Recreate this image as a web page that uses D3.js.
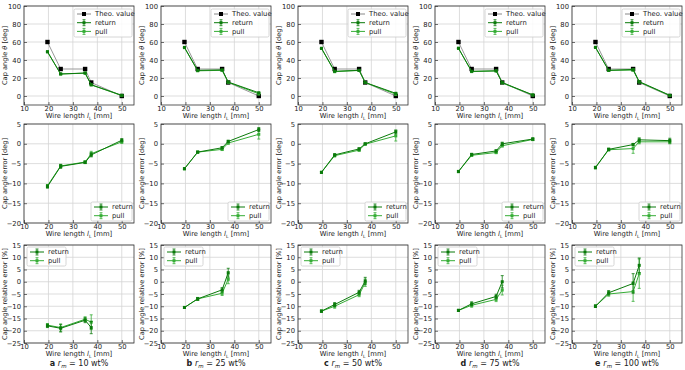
<!DOCTYPE html>
<html>
<head>
<meta charset="utf-8">
<script src="https://cdn.jsdelivr.net/npm/d3@7"></script>
<style>
  body { margin: 0; background: #fff; }
  svg text { font-family: "DejaVu Sans", sans-serif; }
</style>
</head>
<body>
<div id="chart"></div>
<script>
// data
var lengths = [19.6, 25, 35, 37.5, 50];
var relLengths = [19.6, 25, 35, 37.5];
var theoAngle = [60, 30, 30, 15, 0];
var ratios = ["10", "25", "50", "75", "100"];
var letters = ["a", "b", "c", "d", "e"];

// cap angle [deg], one row per r_m
var angleReturn = [
    [49, 24.5, 25.5, 12.5, 0.8],
    [54, 28.5, 29, 15.5, 3.6],
    [53, 27.5, 28.5, 15, 3],
    [53, 27.5, 28, 15, 1.2],
    [54, 28.5, 29.5, 16, 0.8]
];
var anglePull = [
    [49.4, 24.4, 25.4, 12.3, 0.5],
    [53.7, 28, 28.5, 15.2, 2.4],
    [52.8, 27, 28.4, 14.9, 2],
    [53, 27.1, 27.8, 14.5, 1.1],
    [54, 28.5, 28.8, 15.5, 0.5]
];
// cap angle error [deg]
var errReturn = [
    [-10.8, -5.7, -4.7, -2.8, 0.9],
    [-6.3, -2.1, -1.0, 0.6, 3.6],
    [-7.2, -2.8, -1.3, 0.0, 3.0],
    [-7.0, -2.7, -1.8, 0.0, 1.2],
    [-6.0, -1.4, -0.2, 1.0, 0.8]
];
var errPull = [
    [-10.6, -5.6, -4.6, -2.5, 0.5],
    [-6.3, -2.1, -1.4, 0.2, 2.4],
    [-7.2, -3.0, -1.6, -0.1, 2.0],
    [-7.0, -2.9, -2.2, -0.5, 1.1],
    [-6.0, -1.5, -1.2, 0.5, 0.5]
];
// error bar half widths [deg]
var barReturn = [
    [0.4, 0.5, 0.3, 0.5, 0.4],
    [0.2, 0.2, 0.3, 0.3, 0.5],
    [0.2, 0.3, 0.3, 0.2, 0.5],
    [0.2, 0.3, 0.3, 0.4, 0.3],
    [0.3, 0.3, 0.3, 0.5, 0.6]
];
var barPull = [
    [0.3, 0.4, 0.3, 0.6, 0.4],
    [0.2, 0.2, 0.3, 0.3, 1.2],
    [0.2, 0.3, 0.3, 0.2, 1.3],
    [0.3, 0.3, 0.3, 0.3, 0.3],
    [0.3, 0.3, 1.2, 0.5, 0.5]
];
// cap angle relative error [%]
var relReturn = [
    [-18, -19, -15.7, -18.7],
    [-10.5, -7, -3.3, 3.7],
    [-12, -9.3, -4.3, 0.3],
    [-11.7, -9, -6, 0],
    [-10, -4.5, -0.7, 6.7]
];
var relPull = [
    [-17.7, -18.7, -15.3, -16.5],
    [-10.5, -7, -4.7, 1.0],
    [-12, -10, -5.3, -0.4],
    [-11.7, -9.6, -7.2, -3.4],
    [-10, -5, -4, 3.3]
];
var relBarReturn = [
    [0.7, 1.5, 1.0, 2.5],
    [0.4, 0.5, 0.9, 1.8],
    [0.4, 0.8, 0.8, 1.5],
    [0.4, 0.8, 0.9, 2.5],
    [0.5, 0.9, 4.0, 3.0]
];
var relBarPull = [
    [0.6, 1.5, 1.0, 3.0],
    [0.4, 0.6, 0.9, 1.8],
    [0.4, 0.8, 0.8, 1.5],
    [0.4, 0.8, 0.9, 2.0],
    [0.5, 0.9, 4.0, 6.0]
];

var rows = [
    { domain: [-10, 100], ticks: [0, 20, 40, 60, 80, 100], label: "Cap angle \u03b8 [deg]", legend: "topright" },
    { domain: [-20, 5], ticks: [-20, -15, -10, -5, 0, 5], label: "Cap angle error [deg]", legend: "bottomright" },
    { domain: [-25, 15], ticks: [-25, -20, -15, -10, -5, 0, 5, 10, 15], label: "Cap angle relative error [%]", legend: "topleft" }
];

var colReturn = "#0b7a0b";
var colPull = "#36ad36";
var colTheo = "#000";

var svg = d3.select("#chart").append("svg").attr("width", 685).attr("height", 370);

var colLeft = [24, 161, 298, 435, 572];
var rowTop = [6, 124, 245];
var rowH = [99, 99, 98];
var plotW = 110;

function drawSeries(g, x, y, xs, ys, bars, color) {
    var pts = xs.map(function (d, i) { return { x: d, y: ys[i], e: bars[i] }; });
    var line = d3.line().x(function (d) { return x(d.x); }).y(function (d) { return y(d.y); });
    g.append("path").datum(pts).attr("d", line).attr("fill", "none")
        .attr("stroke", color).attr("stroke-width", 1);
    var eb = g.append("g");
    eb.selectAll("line.v").data(pts).enter().append("line")
        .attr("x1", function (d) { return x(d.x); }).attr("x2", function (d) { return x(d.x); })
        .attr("y1", function (d) { return y(d.y - d.e); }).attr("y2", function (d) { return y(d.y + d.e); })
        .attr("stroke", color).attr("stroke-width", 0.8);
    [-1, 1].forEach(function (s) {
        eb.selectAll(null).data(pts).enter().append("line")
            .attr("x1", function (d) { return x(d.x) - 1.5; }).attr("x2", function (d) { return x(d.x) + 1.5; })
            .attr("y1", function (d) { return y(d.y + s * d.e); }).attr("y2", function (d) { return y(d.y + s * d.e); })
            .attr("stroke", color).attr("stroke-width", 0.8);
    });
    g.selectAll(null).data(pts).enter().append("rect")
        .attr("x", function (d) { return x(d.x) - 1.5; }).attr("y", function (d) { return y(d.y) - 1.5; })
        .attr("width", 3).attr("height", 3).attr("fill", color);
}

function legendItem(g, lx, ly, color, text, isTheo) {
    if (isTheo) {
        g.append("line").attr("x1", lx).attr("x2", lx + 14).attr("y1", ly).attr("y2", ly)
            .attr("stroke", "#888").attr("stroke-width", 1);
        g.append("rect").attr("x", lx + 5).attr("y", ly - 2).attr("width", 4).attr("height", 4).attr("fill", colTheo);
    } else {
        g.append("line").attr("x1", lx).attr("x2", lx + 14).attr("y1", ly).attr("y2", ly)
            .attr("stroke", color).attr("stroke-width", 1);
        g.append("line").attr("x1", lx + 7).attr("x2", lx + 7).attr("y1", ly - 3).attr("y2", ly + 3)
            .attr("stroke", color).attr("stroke-width", 0.8);
        g.append("line").attr("x1", lx + 5.5).attr("x2", lx + 8.5).attr("y1", ly - 3).attr("y2", ly - 3)
            .attr("stroke", color).attr("stroke-width", 0.8);
        g.append("line").attr("x1", lx + 5.5).attr("x2", lx + 8.5).attr("y1", ly + 3).attr("y2", ly + 3)
            .attr("stroke", color).attr("stroke-width", 0.8);
        g.append("rect").attr("x", lx + 5.5).attr("y", ly - 1.5).attr("width", 3).attr("height", 3).attr("fill", color);
    }
    g.append("text").attr("x", lx + 18).attr("y", ly).attr("dy", "0.35em")
        .style("font-size", "6.8px").attr("fill", "#222").text(text);
}

function drawLegend(g, type, plotH) {
    var items = type === "topright"
        ? [["Theo. value", colTheo, true], ["return", colReturn, false], ["pull", colPull, false]]
        : [["return", colReturn, false], ["pull", colPull, false]];
    var bx, by, bw, bh;
    if (type === "topright") { bx = plotW - 60; by = 3; bw = 58; bh = 28; }
    else if (type === "bottomright") { bx = plotW - 43; by = plotH - 21; bw = 41; bh = 19; }
    else { bx = 3; by = 2; bw = 39; bh = 19; }
    var lg = g.append("g").attr("transform", "translate(" + bx + "," + by + ")");
    lg.append("rect").attr("width", bw).attr("height", bh).attr("rx", 1.5)
        .attr("fill", "#fff").attr("fill-opacity", 0.85).attr("stroke", "#ccc").attr("stroke-width", 0.8);
    items.forEach(function (it, i) {
        legendItem(lg, 3, 5 + i * 8.7, it[1], it[0], it[2]);
    });
}

rows.forEach(function (row, r) {
    var plotH = rowH[r];
    ratios.forEach(function (ratio, c) {
        var g = svg.append("g").attr("transform", "translate(" + colLeft[c] + "," + rowTop[r] + ")");
        var x = d3.scaleLinear().domain([10, 55]).range([0, plotW]);
        var y = d3.scaleLinear().domain(row.domain).range([plotH, 0]);

        // grid
        g.selectAll(null).data([10, 20, 30, 40, 50]).enter().append("line")
            .attr("x1", x).attr("x2", x).attr("y1", 0).attr("y2", plotH)
            .attr("stroke", "#d4d4d4").attr("stroke-width", 0.8);
        g.selectAll(null).data(row.ticks).enter().append("line")
            .attr("y1", y).attr("y2", y).attr("x1", 0).attr("x2", plotW)
            .attr("stroke", "#d4d4d4").attr("stroke-width", 0.8);

        // axes (ticks inward)
        var xAxis = g.append("g").attr("transform", "translate(0," + plotH + ")")
            .call(d3.axisBottom(x).tickValues([10, 20, 30, 40, 50]).tickSize(-3).tickPadding(1.5));
        var yAxis = g.append("g")
            .call(d3.axisLeft(y).tickValues(row.ticks).tickSize(-3).tickPadding(3)
                .tickFormat(function (d) { return d < 0 ? "\u2212" + Math.abs(d) : d; }));
        [xAxis, yAxis].forEach(function (a) {
            a.select(".domain").remove();
            a.selectAll("line").attr("stroke", "#333").attr("stroke-width", 0.7);
            a.selectAll("text").style("font-size", "6.8px").attr("fill", "#222");
        });

        g.append("rect").attr("width", plotW).attr("height", plotH)
            .attr("fill", "none").attr("stroke", "#333").attr("stroke-width", 0.8);

        var plot = g.append("g");
        if (r === 0) {
            var tpts = lengths.map(function (d, i) { return [x(d), y(theoAngle[i])]; });
            plot.append("path").attr("d", d3.line()(tpts)).attr("fill", "none")
                .attr("stroke", "#999").attr("stroke-width", 1);
            plot.selectAll(null).data(tpts).enter().append("rect")
                .attr("x", function (d) { return d[0] - 2.2; }).attr("y", function (d) { return d[1] - 2.2; })
                .attr("width", 4.4).attr("height", 4.4).attr("fill", colTheo);
            drawSeries(plot, x, y, lengths, anglePull[c], barPull[c], colPull);
            drawSeries(plot, x, y, lengths, angleReturn[c], barReturn[c], colReturn);
        } else if (r === 1) {
            drawSeries(plot, x, y, lengths, errPull[c], barPull[c], colPull);
            drawSeries(plot, x, y, lengths, errReturn[c], barReturn[c], colReturn);
        } else {
            drawSeries(plot, x, y, relLengths, relPull[c], relBarPull[c], colPull);
            drawSeries(plot, x, y, relLengths, relReturn[c], relBarReturn[c], colReturn);
        }

        drawLegend(g, row.legend, plotH);

        // axis labels
        var xl = g.append("text").attr("x", plotW / 2).attr("y", plotH + 13)
            .attr("text-anchor", "middle").style("font-size", "6.8px").attr("fill", "#222");
        xl.append("tspan").text("Wire length ");
        xl.append("tspan").attr("font-style", "italic").text("l");
        xl.append("tspan").attr("dy", 1.5).style("font-size", "4.6px").text("L");
        xl.append("tspan").attr("dy", -1.5).text(" [mm]");

        var ylab = g.append("text").attr("transform", "translate(-17.5," + plotH / 2 + ") rotate(-90)")
            .attr("text-anchor", "middle").style("font-size", "6.6px").attr("fill", "#222");
        if (r === 0) {
            ylab.append("tspan").text("Cap angle ");
            ylab.append("tspan").attr("font-style", "italic").text("\u03b8");
            ylab.append("tspan").text(" [deg]");
        } else {
            ylab.text(row.label);
        }

        if (r === 2) {
            var cap = g.append("text").attr("x", plotW / 2).attr("y", plotH + 23)
                .attr("text-anchor", "middle").style("font-size", "8px").attr("fill", "#222");
            cap.append("tspan").attr("font-weight", "bold").text(letters[c] + "  ");
            cap.append("tspan").attr("font-style", "italic").text("r");
            cap.append("tspan").attr("dy", 1.5).style("font-size", "5.5px").attr("font-style", "italic").text("m");
            cap.append("tspan").attr("dy", -1.5).text(" = " + ratio + " wt%");
        }
    });
});
</script>
</body>
</html>
